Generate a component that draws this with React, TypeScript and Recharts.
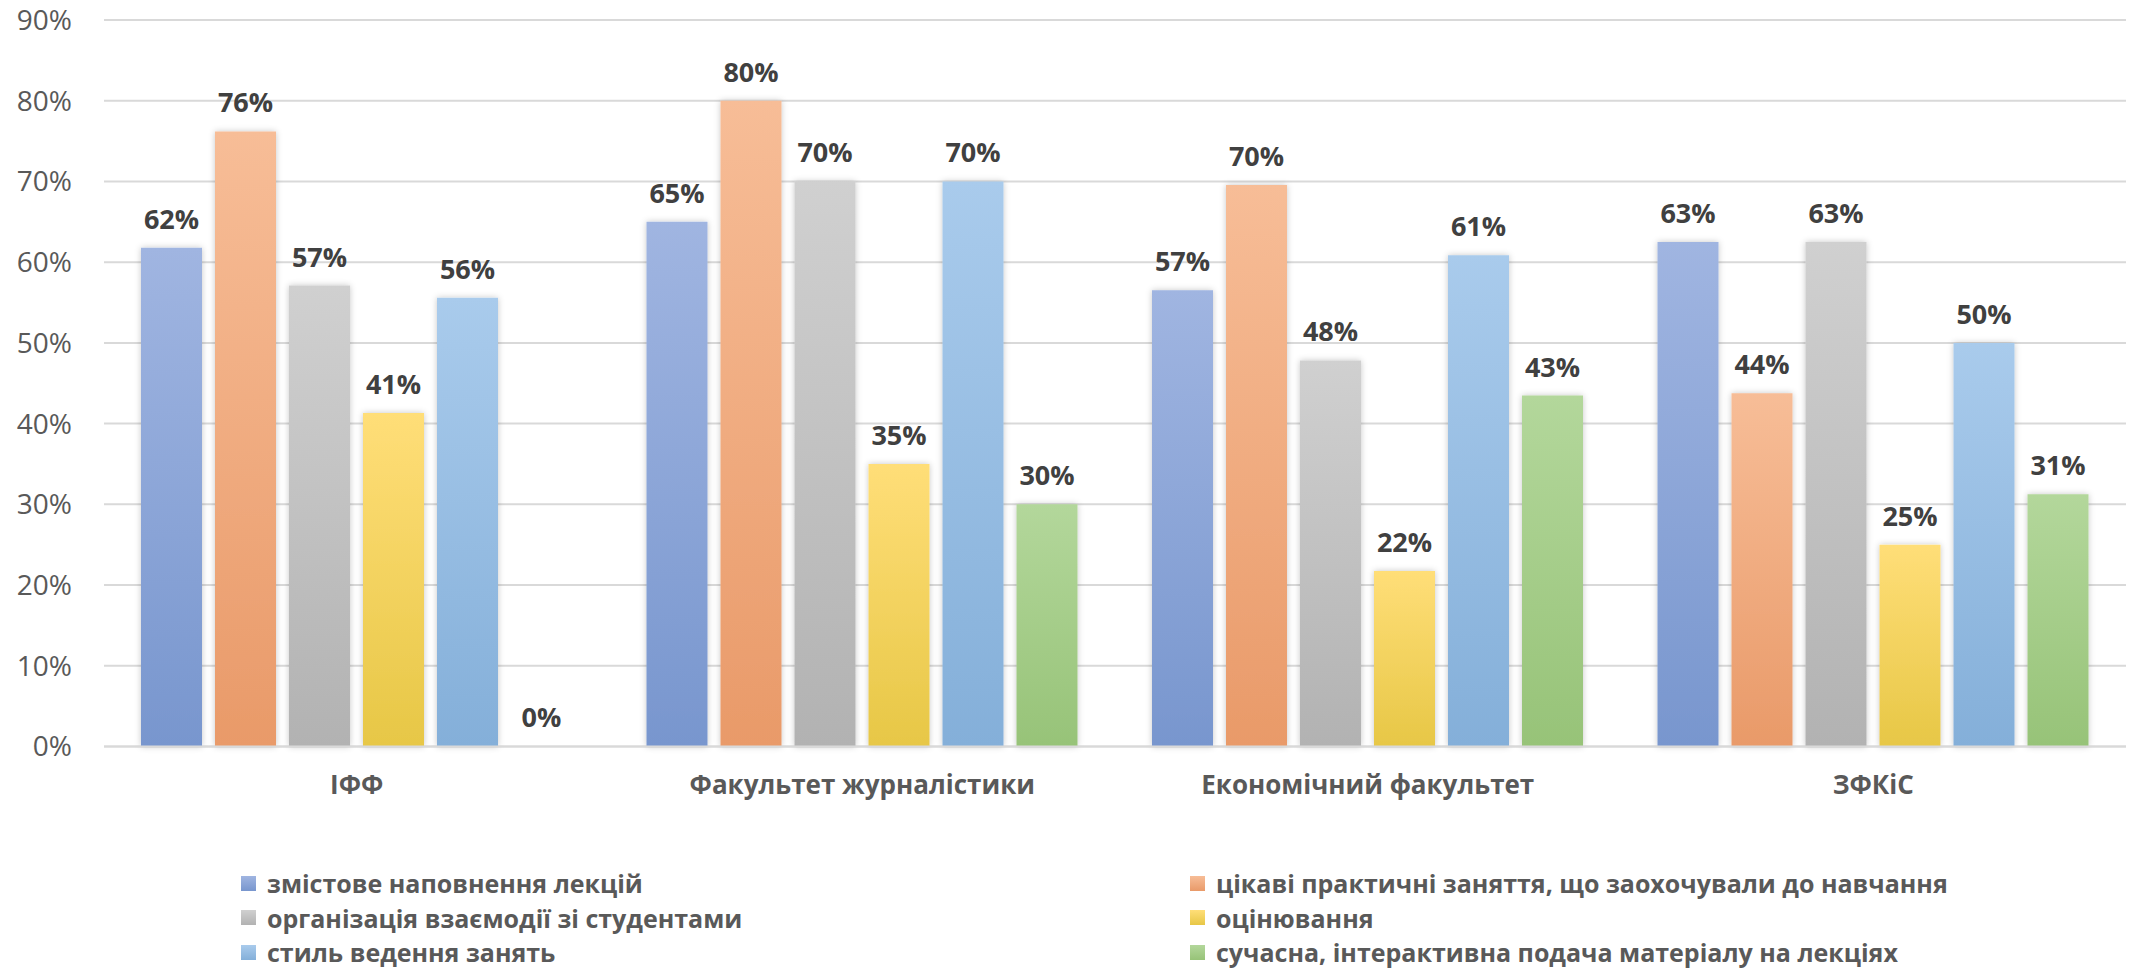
import { BarChart, Bar, XAxis, YAxis, CartesianGrid, LabelList } from 'recharts';

// categories (faculties)
const faculties = ['ІФФ', 'Факультет журналістики', 'Економічний факультет', 'ЗФКіС'];

// series values, %
const zmistove = [61.8, 65, 56.52, 62.5];
const tsikavi = [76.2, 80, 69.57, 43.75];
const orhanizatsiia = [57.1, 70, 47.83, 62.5];
const otsiniuvannia = [41.3, 35, 21.74, 25];
const styl = [55.6, 70, 60.87, 50];
const suchasna = [0, 30, 43.48, 31.25];

const yTicks = [0, 10, 20, 30, 40, 50, 60, 70, 80, 90];

const seriesNames = [
    'змістове наповнення лекцій',
    'цікаві практичні заняття, що заохочували до навчання',
    'організація взаємодії зі студентами',
    'оцінювання',
    'стиль ведення занять',
    'сучасна, інтерактивна подача матеріалу на лекціях',
];

const seriesValues = [zmistove, tsikavi, orhanizatsiia, otsiniuvannia, styl, suchasna];

// gradient top / bottom for each series
const colors = [
    ['#A0B5E1', '#7896CE'],
    ['#F7BD97', '#E99A69'],
    ['#D0D0D0', '#B2B2B2'],
    ['#FFDE78', '#E7C746'],
    ['#A9CBEC', '#84AFD9'],
    ['#B3D79B', '#97C378'],
];

const data = faculties.map((f, i) => {
    const row: Record<string, string | number> = { name: f };
    seriesValues.forEach((vals, s) => {
        row['s' + s] = vals[i];
    });
    return row;
});

const font = '"Open Sans", "Noto Sans", sans-serif';

// value label above each bar (also for 0 values)
const renderLabel = (props: any) => {
    const { x, y, width, value } = props;
    if (value === undefined || value === null) return null;
    return (
        <text
            x={Number(x) + Number(width) / 2}
            y={Number(y) - 19}
            textAnchor="middle"
            fill="#404040"
            fontSize={27}
            fontWeight={700}
            fontFamily={font}
        >
            {`${Math.round(Number(value))}%`}
        </text>
    );
};

const App = () => {
    return (
        <div style={{ position: 'absolute', left: 0, top: 0, width: 2145, height: 970, background: '#fff', fontFamily: font }}>
            <BarChart
                width={2145}
                height={970}
                data={data}
                barSize={61}
                barGap={13}
                margin={{ top: 20, right: 19, left: 0, bottom: 163.5 }}
            >
                <defs>
                    {colors.map((c, i) => (
                        <linearGradient key={i} id={'grad' + i} x1="0" y1="0" x2="0" y2="1">
                            <stop offset="0%" stopColor={c[0]} />
                            <stop offset="100%" stopColor={c[1]} />
                        </linearGradient>
                    ))}
                    <filter id="barShadow" x="-20%" y="-5%" width="140%" height="110%">
                        <feDropShadow dx="0" dy="0" stdDeviation="3" floodColor="#000" floodOpacity="0.22" />
                    </filter>
                </defs>
                <CartesianGrid vertical={false} stroke="#D9D9D9" strokeWidth={2} />
                <XAxis
                    dataKey="name"
                    height={60}
                    axisLine={{ stroke: '#D9D9D9', strokeWidth: 2 }}
                    tickLine={false}
                    tickSize={0}
                    tickMargin={29}
                    tick={{ fill: '#595959', fontSize: 26, fontWeight: 700, fontFamily: font }}
                    interval={0}
                />
                <YAxis
                    width={104}
                    domain={[0, 90]}
                    ticks={yTicks}
                    axisLine={false}
                    tickLine={false}
                    tickSize={0}
                    tickMargin={32}
                    tickFormatter={(v: number) => `${v}%`}
                    tick={{ fill: '#595959', fontSize: 28, fontFamily: font }}
                />
                {seriesNames.map((n, i) => (
                    <Bar
                        key={i}
                        dataKey={'s' + i}
                        name={n}
                        fill={`url(#grad${i})`}
                        filter="url(#barShadow)"
                        minPointSize={0.01}
                        isAnimationActive={false}
                    >
                        <LabelList dataKey={'s' + i} content={renderLabel} />
                    </Bar>
                ))}
            </BarChart>
            {[0, 1, 2].map((row) => (
                [0, 1].map((col) => {
                    const idx = row * 2 + col;
                    return (
                        <div
                            key={idx}
                            style={{
                                position: 'absolute',
                                left: col === 0 ? 241 : 1190,
                                top: 883 + row * 34.5 - 17,
                                height: 34,
                                display: 'flex',
                                alignItems: 'center',
                                whiteSpace: 'nowrap',
                            }}
                        >
                            <div
                                style={{
                                    width: 15,
                                    height: 15,
                                    background: `linear-gradient(${colors[idx][0]}, ${colors[idx][1]})`,
                                    marginRight: 11,
                                }}
                            />
                            <span style={{ fontSize: 25, fontWeight: 700, color: '#595959', fontFamily: font }}>
                                {seriesNames[idx]}
                            </span>
                        </div>
                    );
                })
            ))}
        </div>
    );
};

export default App;
